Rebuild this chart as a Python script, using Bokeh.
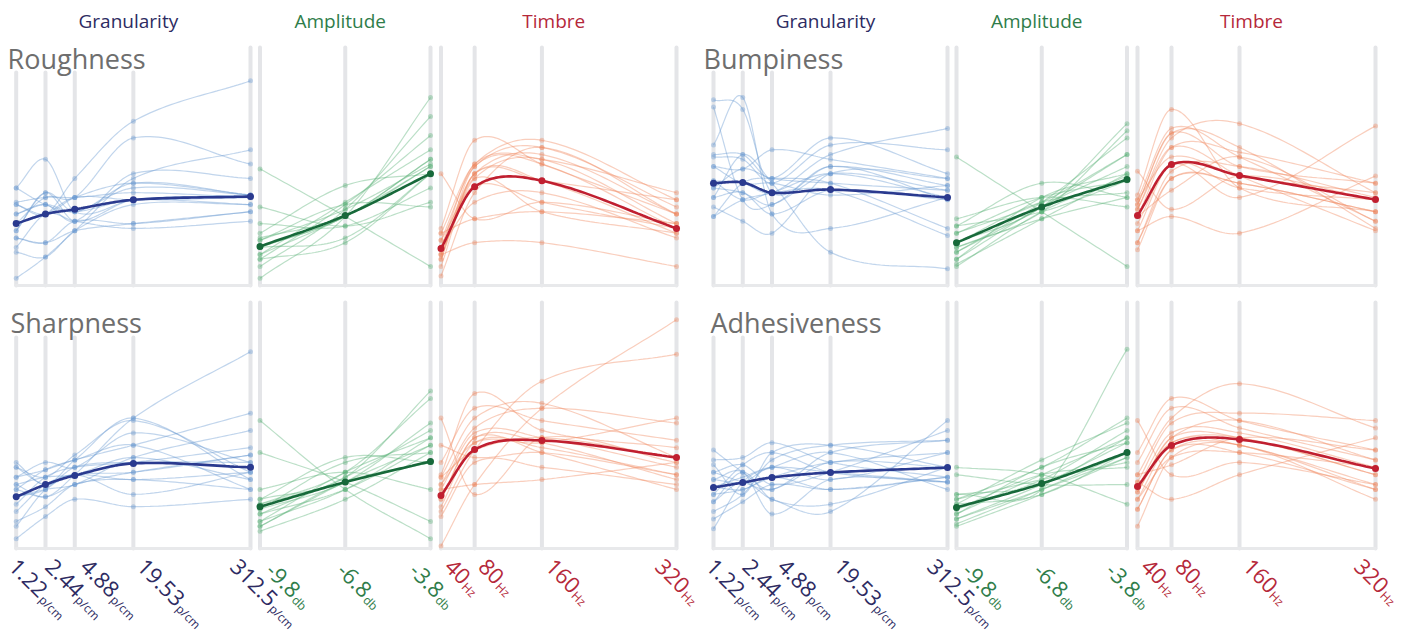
import numpy as np
from bokeh.plotting import figure
from bokeh.models import Range1d, LogScale, LinearScale, CoordinateMapping
from bokeh.core.properties import value
from bokeh.embed import file_html
from bokeh.resources import INLINE

# ------------------------------------------------------------------ data
GRAN_TICKS = [1.22, 2.44, 4.88, 19.53, 312.5]
GRAN_LABELS = ["1.22", "2.44", "4.88", "19.53", "312.5"]
AMP_TICKS = [-9.8, -6.8, -3.8]
AMP_LABELS = ["-9.8", "-6.8", "-3.8"]
TIMBRE_TICKS = [40, 80, 160, 320]
TIMBRE_LABELS = ["40", "80", "160", "320"]
SECTION_NAMES = ["Granularity", "Amplitude", "Timbre"]
UNITS = ["p/cm", "db", "Hz"]
PANEL_NAMES = ["Roughness", "Bumpiness", "Sharpness", "Adhesiveness"]

ROUGHNESS_GRAN = [
    [3, 12, 23, 45, 57], [34, 30, 45, 69, 86], [41, 53, 31, 36, 38], [26, 37, 37, 62, 51],
    [30, 34, 27, 47, 45], [23, 39, 31, 43, 38], [20, 18, 23, 26, 31], [16, 30, 27, 24, 27],
    [14, 12, 23, 34, 34], [35, 37, 37, 39, 37], [30, 34, 31, 41, 38], [26, 30, 37, 36, 37],
    [41, 34, 31, 36, 34], [20, 18, 27, 26, 31], [34, 30, 37, 43, 38], [23, 39, 27, 36, 37]]
ROUGHNESS_GRAN_MEAN = [26, 30, 32, 36, 37.4]
ROUGHNESS_AMP = [
    [49, 29, 8], [33, 25, 35], [3, 29, 79], [8, 32, 71], [11, 34, 63], [13, 35, 57],
    [16, 29, 53], [19, 32, 51], [20, 29, 50], [22, 42, 47], [26, 25, 41], [16, 20, 47],
    [13, 29, 50], [19, 34, 33], [11, 18, 47], [16, 29, 53]]
ROUGHNESS_AMP_MEAN = [16.4, 29.4, 47]
ROUGHNESS_TIMBRE = [
    [47, 28, 35, 26], [24, 61, 51, 30], [22, 51, 61, 36], [19, 50, 58, 33], [16, 47, 55, 30],
    [13, 45, 53, 26], [11, 50, 51, 24], [8, 47, 44, 22], [4, 39, 58, 30], [13, 18, 18, 8],
    [16, 35, 39, 20], [19, 42, 35, 24], [22, 28, 31, 26], [11, 47, 44, 36], [16, 51, 53, 39],
    [13, 45, 31, 22]]
ROUGHNESS_TIMBRE_MEAN = [15.5, 41.5, 44, 24]

BUMPINESS_GRAN = [
    [78, 74, 39, 50, 42], [75, 36, 34, 47, 40], [59, 79, 30, 24, 37], [55, 55, 45, 62, 47],
    [54, 53, 43, 59, 57], [50, 49, 57, 53, 45], [44, 43, 39, 55, 66], [41, 39, 34, 50, 36],
    [37, 55, 43, 14, 7], [33, 27, 22, 47, 45], [29, 43, 45, 43, 24], [44, 36, 39, 40, 21],
    [50, 43, 43, 38, 42], [37, 39, 30, 40, 36], [41, 49, 45, 43, 40], [29, 36, 39, 47, 37]]
BUMPINESS_GRAN_MEAN = [43, 43.3, 39, 40.3, 37]
BUMPINESS_AMP = [
    [54, 31, 8], [28, 37, 33], [25, 43, 37], [22, 35, 55], [18, 33, 68], [16, 31, 65],
    [14, 35, 62], [11, 33, 50], [9, 28, 47], [8, 31, 46], [22, 37, 44], [18, 35, 39],
    [14, 33, 55], [25, 31, 44], [16, 28, 37], [11, 37, 47]]
BUMPINESS_AMP_MEAN = [18, 33, 44.5]
BUMPINESS_TIMBRE = [
    [48, 32, 46, 36], [38, 74, 41, 31], [36, 66, 54, 27], [34, 64, 58, 24], [32, 62, 68, 39],
    [29, 58, 56, 43], [18, 48, 50, 37], [15, 45, 43, 31], [29, 40, 54, 27], [32, 58, 46, 23],
    [23, 51, 41, 36], [36, 54, 46, 39], [18, 45, 43, 31], [34, 64, 50, 43], [26, 51, 37, 67],
    [23, 29, 22, 46]]
BUMPINESS_TIMBRE_MEAN = [29.4, 50.8, 46.2, 36.1]

SHARPNESS_GRAN = [
    [35, 26, 36, 53, 28], [33, 29, 38, 52, 31], [29, 35, 33, 47, 35], [26, 21, 30, 53, 80],
    [24, 32, 36, 42, 55], [21, 24, 26, 37, 48], [18, 29, 33, 35, 41], [15, 26, 30, 31, 38],
    [11, 17, 26, 28, 24], [9, 24, 30, 22, 31], [4, 13, 20, 17, 20], [21, 24, 33, 35, 35],
    [26, 29, 30, 37, 28], [24, 21, 26, 31, 38], [29, 32, 36, 42, 24], [33, 26, 30, 28, 31]]
SHARPNESS_GRAN_MEAN = [21, 26, 29.7, 34.6, 33]
SHARPNESS_AMP = [
    [52, 24, 4], [39, 27, 11], [24, 31, 24], [20, 29, 64], [18, 31, 61], [16, 27, 51],
    [14, 29, 48], [11, 24, 45], [9, 27, 42], [7, 20, 39], [20, 37, 35], [16, 35, 39],
    [14, 24, 42], [18, 27, 35], [11, 31, 45], [9, 27, 35]]
SHARPNESS_AMP_MEAN = [17, 27, 35.4]
SHARPNESS_TIMBRE = [
    [53, 22, 45, 35], [42, 37, 39, 30], [35, 57, 52, 44], [30, 63, 48, 41], [29, 53, 59, 37],
    [26, 49, 57, 51], [24, 47, 45, 33], [20, 45, 43, 28], [17, 43, 41, 30], [15, 40, 68, 79],
    [13, 35, 33, 26], [1, 26, 57, 93], [24, 26, 28, 35], [20, 45, 39, 24], [26, 43, 43, 53],
    [29, 40, 45, 37]]
SHARPNESS_TIMBRE_MEAN = [21.5, 40.2, 43.9, 37]

ADHESIVENESS_GRAN = [
    [40, 31, 24, 39, 44], [36, 37, 43, 35, 29], [34, 22, 39, 42, 33], [31, 34, 26, 31, 48],
    [19, 27, 20, 15, 52], [25, 29, 33, 31, 27], [22, 24, 29, 35, 39], [19, 31, 20, 18, 33],
    [15, 22, 36, 42, 44], [12, 19, 26, 24, 29], [8, 27, 33, 39, 24], [28, 31, 14, 28, 27],
    [25, 24, 29, 24, 29], [31, 27, 24, 35, 33], [22, 34, 39, 31, 27], [28, 27, 33, 28, 39]]
ADHESIVENESS_GRAN_MEAN = [24.8, 26.8, 28.9, 30.9, 32.9]
ADHESIVENESS_AMP = [
    [33, 30, 18], [30, 26, 26], [22, 24, 81], [20, 33, 53], [18, 36, 51], [16, 28, 48],
    [14, 30, 45], [12, 26, 43], [10, 24, 39], [9, 22, 37], [20, 28, 35], [16, 30, 33],
    [14, 33, 43], [18, 22, 39], [12, 24, 37], [22, 26, 45]]
ADHESIVENESS_AMP_MEAN = [16.7, 26.4, 39]
ADHESIVENESS_TIMBRE = [
    [52, 30, 35, 26], [39, 61, 52, 40], [35, 57, 49, 36], [30, 53, 67, 49], [27, 51, 55, 52],
    [25, 47, 47, 33], [23, 45, 45, 30], [20, 43, 42, 26], [16, 40, 39, 24], [9, 37, 42, 20],
    [27, 20, 30, 45], [30, 34, 45, 40], [23, 45, 52, 36], [20, 37, 39, 33], [25, 43, 45, 30],
    [16, 40, 42, 24]]
ADHESIVENESS_TIMBRE_MEAN = [25.2, 41.9, 44.3, 32.5]

PANELS = [
    (ROUGHNESS_GRAN, ROUGHNESS_GRAN_MEAN, ROUGHNESS_AMP, ROUGHNESS_AMP_MEAN, ROUGHNESS_TIMBRE, ROUGHNESS_TIMBRE_MEAN),
    (BUMPINESS_GRAN, BUMPINESS_GRAN_MEAN, BUMPINESS_AMP, BUMPINESS_AMP_MEAN, BUMPINESS_TIMBRE, BUMPINESS_TIMBRE_MEAN),
    (SHARPNESS_GRAN, SHARPNESS_GRAN_MEAN, SHARPNESS_AMP, SHARPNESS_AMP_MEAN, SHARPNESS_TIMBRE, SHARPNESS_TIMBRE_MEAN),
    (ADHESIVENESS_GRAN, ADHESIVENESS_GRAN_MEAN, ADHESIVENESS_AMP, ADHESIVENESS_AMP_MEAN, ADHESIVENESS_TIMBRE, ADHESIVENESS_TIMBRE_MEAN),
]

# ------------------------------------------------------------------ layout / style
W, H = 1403, 637
FONT = value("Open Sans")
TICKS = [GRAN_TICKS, AMP_TICKS, TIMBRE_TICKS]
LABELS = [GRAN_LABELS, AMP_LABELS, TIMBRE_LABELS]
X_TARGETS = [[(15.7, 250.0), (259.5, 430.0), (440.5, 676.0)],
             [(713.0, 947.0), (956.0, 1126.5), (1137.0, 1375.0)]]
ROWS = [dict(bottom=285.0, top=47.0, short_top=72.0, title_y=58.0),
        dict(bottom=548.0, top=302.0, short_top=337.0, title_y=322.0)]
PANEL_POS = [(0, 0, 7), (0, 1, 703), (1, 0, 10), (1, 1, 710)]
LIGHT = ["#6b9bd2", "#5cb27a", "#f08a62"]
DARK = ["#2a3a8f", "#17693a", "#c01f30"]
TEXT_COL = ["#2d2b62", "#2f7d4a", "#b5283a"]
LABEL_DX = [[-3, 4, 10, 8, -16], [10, -4, -17], [8, 8, 8, -17]]
LABEL_Y = [562, 566, 562]
SECTION_TITLE_Y = 20
NUM_SIZE, UNIT_SIZE = 22, 12


def tfun(s, x):
    return np.log2(np.asarray(x, float)) if s == 0 else np.asarray(x, float)


def tinv(s, t):
    return np.power(2.0, t) if s == 0 else t


def smooth(t, y, n=28):
    """Cubic Hermite (Catmull-Rom style) curve through the points."""
    t = np.asarray(t, float)
    y = np.asarray(y, float)
    k = len(t)
    m = np.zeros(k)
    m[0] = (y[1] - y[0]) / (t[1] - t[0])
    m[-1] = (y[-1] - y[-2]) / (t[-1] - t[-2])
    for i in range(1, k - 1):
        m[i] = (y[i + 1] - y[i - 1]) / (t[i + 1] - t[i - 1])
    ts, ys = [], []
    for i in range(k - 1):
        h = t[i + 1] - t[i]
        u = np.linspace(0, 1, n, endpoint=False)
        h00 = 2 * u ** 3 - 3 * u ** 2 + 1
        h10 = u ** 3 - 2 * u ** 2 + u
        h01 = -2 * u ** 3 + 3 * u ** 2
        h11 = u ** 3 - u ** 2
        ts.extend(t[i] + u * h)
        ys.extend(h00 * y[i] + h10 * h * m[i] + h01 * y[i + 1] + h11 * h * m[i + 1])
    ts.append(t[-1])
    ys.append(y[-1])
    return np.array(ts), np.array(ys)


def text_width(s, size):
    w = {".": 0.267, "-": 0.322}
    return sum(w.get(c, 0.572) for c in s) * size


p = figure(width=W, height=H, x_range=Range1d(0, W), y_range=Range1d(H, 0),
           output_backend="svg", toolbar_location=None, x_axis_type=None, y_axis_type=None,
           min_border=0, outline_line_color=None)
p.background_fill_color = "white"


def mapping(s, xt, ys, yt):
    ticks = TICKS[s]
    return CoordinateMapping(x_source=Range1d(ticks[0], ticks[-1]),
                             x_scale=LogScale() if s == 0 else LinearScale(),
                             x_target=Range1d(*xt),
                             y_source=Range1d(*ys), y_scale=LinearScale(),
                             y_target=Range1d(*yt))


for pi, (row_i, col_i, title_x) in enumerate(PANEL_POS):
    row = ROWS[row_i]
    data = PANELS[pi]
    for s in range(3):
        ticks = TICKS[s]
        xt = X_TARGETS[col_i][s]
        cm = mapping(s, xt, (0, 100), (row["bottom"], row["top"]))
        n = len(ticks)
        short_v = (row["bottom"] - row["short_top"]) / (row["bottom"] - row["top"]) * 100
        tops = [short_v if (s == 0 and i < n - 1) else 100 for i in range(n)]
        r = p.segment(x0=ticks, y0=[0] * n, x1=ticks, y1=tops, line_color="#e4e5e8",
                      line_width=4, line_cap="round")
        r.coordinates = cm
        r = p.segment(x0=[ticks[0]], y0=[0], x1=[ticks[-1]], y1=[0], line_color="#e8e9eb",
                      line_width=3, line_cap="round")
        r.coordinates = cm

        lines = data[2 * s]
        mean = data[2 * s + 1]
        xs, yss, px, py = [], [], [], []
        for ln in lines:
            tt, yy = smooth(tfun(s, ticks), ln)
            xs.append(list(tinv(s, tt)))
            yss.append(list(yy))
            px.extend(ticks)
            py.extend(ln)
        r = p.multi_line(xs, yss, line_color=LIGHT[s], line_alpha=0.42, line_width=1.2)
        r.coordinates = cm
        r = p.scatter(px, py, size=5, fill_color=LIGHT[s], fill_alpha=0.38, line_color=None)
        r.coordinates = cm
        tt, yy = smooth(tfun(s, ticks), mean)
        r = p.line(list(tinv(s, tt)), list(yy), line_color=DARK[s], line_width=2.6)
        r.coordinates = cm
        r = p.scatter(ticks, mean, size=7, fill_color=DARK[s], line_color=None)
        r.coordinates = cm

        if row_i == 0:
            p.text(x=[(xt[0] + xt[1]) / 2 - 5], y=[SECTION_TITLE_Y], text=[SECTION_NAMES[s]],
                   text_font=FONT, text_font_size="19px", text_color=TEXT_COL[s],
                   text_align="center", text_baseline="alphabetic")
        else:
            lab_cm = mapping(s, xt, (0, 1), (0, 1))
            labels = LABELS[s]
            dx = LABEL_DX[s]
            ly = [LABEL_Y[s]] * n
            r = p.text(x=ticks, y=ly, text=labels, angle=-np.pi / 4, x_offset=dx, y_offset=[0] * n,
                       text_font=FONT, text_font_size=f"{NUM_SIZE}px", text_color=TEXT_COL[s],
                       text_align="left", text_baseline="alphabetic")
            r.coordinates = lab_cm
            c = np.sqrt(0.5)
            ux, uy = [], []
            for i, lbl in enumerate(labels):
                w = text_width(lbl, NUM_SIZE) + 1
                ux.append(dx[i] + w * c - 5 * c)
                uy.append(w * c + 5 * c)
            r = p.text(x=ticks, y=ly, text=[UNITS[s]] * n, angle=-np.pi / 4, x_offset=ux,
                       y_offset=uy, text_font=FONT, text_font_size=f"{UNIT_SIZE}px",
                       text_color=TEXT_COL[s], text_align="left", text_baseline="alphabetic")
            r.coordinates = lab_cm

    p.text(x=[title_x], y=[row["title_y"]], text=[PANEL_NAMES[pi]], text_font=FONT,
           text_font_size="27px", text_color="#6e6e6e", text_align="left",
           text_baseline="alphabetic")

open("out.html", "w").write(file_html(p, INLINE))
